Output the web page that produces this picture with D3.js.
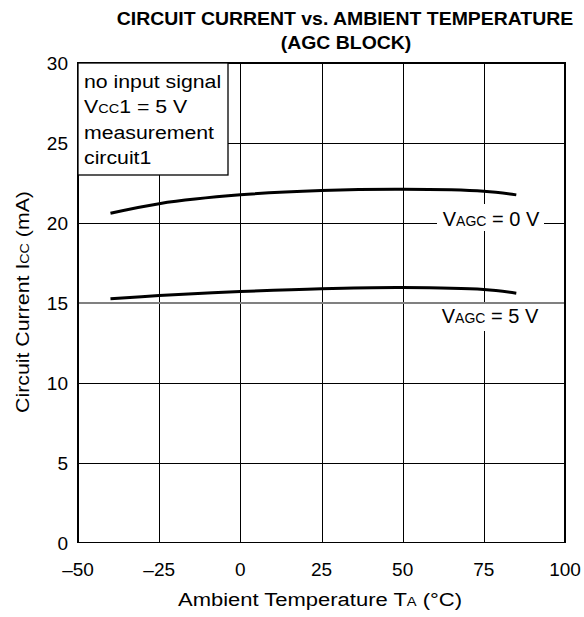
<!DOCTYPE html>
<html><head><meta charset="utf-8">
<script src="https://cdn.jsdelivr.net/npm/d3@7"></script>
<style>body{margin:0;background:#fff}svg{display:block;font-family:"Liberation Sans",Arial,sans-serif}</style>
</head><body>
<script>
const temps = [-40, -25, 0, 25, 50, 75, 85];
const icc0V = [20.6, 21.2, 21.75, 22.02, 22.1, 21.98, 21.75];
const icc5V = [15.25, 15.45, 15.7, 15.88, 15.95, 15.83, 15.6];
const xTicks = [-50, -25, 0, 25, 50, 75, 100];
const yTicks = [0, 5, 10, 15, 20, 25, 30];
const boxLines = [["no input signal"], ["V", "CC", "1 = 5 V"], ["measurement"], ["circuit1"]];

const W = 584, H = 617;
const svg = d3.select("body").append("svg").attr("width", W).attr("height", H);
const x = d3.scaleLinear().domain([-50, 100]).range([78, 565]);
const y = d3.scaleLinear().domain([0, 30]).range([542.5, 63]);

// helper: stretched text
function stext(px, py, sx, size, anchor, parts, opts = {}) {
  const t = svg.append("text")
    .attr("transform", `translate(${px},${py}) scale(${sx},1)`)
    .attr("text-anchor", anchor).attr("font-size", size).attr("fill", "#000");
  if (opts.bold) t.attr("font-weight", "bold");
  parts.forEach(p => {
    const ts = t.append("tspan").text(p[0]);
    if (p[1]) ts.attr("font-size", p[1]);
  });
  return t;
}

// title
stext(345, 25, 1.08, 18, "middle", [["CIRCUIT CURRENT vs. AMBIENT TEMPERATURE"]], {bold: true});
stext(346, 49, 1.08, 18, "middle", [["(AGC BLOCK)"]], {bold: true});

// grid
const g = svg.append("g").attr("shape-rendering", "crispEdges");
g.selectAll(".vx").data(xTicks.slice(1, -1)).join("line")
  .attr("x1", d => Math.round(x(d)) + 0.5).attr("x2", d => Math.round(x(d)) + 0.5)
  .attr("y1", y(30)).attr("y2", y(0)).attr("stroke", "#000").attr("stroke-width", 1);
g.selectAll(".hy").data(yTicks.slice(1, -1)).join("line")
  .attr("y1", d => d === 15 ? Math.round(y(d)) : Math.round(y(d)) + 0.5)
  .attr("y2", d => d === 15 ? Math.round(y(d)) : Math.round(y(d)) + 0.5)
  .attr("x1", x(-50)).attr("x2", x(100))
  .attr("stroke", d => d === 15 ? "#808080" : "#000")
  .attr("stroke-width", d => d === 15 ? 2 : 1);
g.append("rect").attr("x", x(-50)).attr("y", y(30)).attr("width", x(100) - x(-50))
  .attr("height", y(0) - y(30)).attr("fill", "none").attr("stroke", "#000").attr("stroke-width", 1.6);

// tick labels (positions from scales)
xTicks.forEach(d => stext(x(d), 576, 1.0, 19, "middle", [[d < 0 ? "\u2013" + Math.abs(d) : String(d)]]));
yTicks.forEach(d => stext(x(-50) - 10, y(d) + 7, 1.0, 19, "end", [[String(d)]]));

// axis titles
svg.append("text").attr("x", 320).attr("y", 606).attr("text-anchor", "middle").attr("font-size", 18)
  .attr("textLength", 284).attr("lengthAdjust", "spacingAndGlyphs")
  .call(t => { t.append("tspan").text("Ambient Temperature  T"); t.append("tspan").attr("font-size", 12).text("A"); t.append("tspan").text(" (\u00B0C)"); });
svg.append("text").attr("transform", "translate(29,302) rotate(-90)").attr("text-anchor", "middle").attr("font-size", 18)
  .attr("textLength", 222).attr("lengthAdjust", "spacingAndGlyphs")
  .call(t => { t.append("tspan").text("Circuit Current  I"); t.append("tspan").attr("font-size", 12).text("CC"); t.append("tspan").text(" (mA)"); });

// curves
const line = d3.line().x((d, i) => x(temps[i])).y(d => y(d)).curve(d3.curveCatmullRom.alpha(0.5));
[icc0V, icc5V].forEach(s => {
  svg.append("path").attr("d", line(s)).attr("fill", "none").attr("stroke", "#000").attr("stroke-width", 3);
});

// curve labels with white backgrounds
function label(cx, top, bottom, base, sub, val) {
  svg.append("rect").attr("x", 437).attr("y", top).attr("width", 107).attr("height", bottom - top).attr("fill", "#fff");
  stext(cx, base, 1.0, 20, "middle", [["V"], [sub, 14], [" = " + val]]);
}
label(491, 204, 231, 226, "AGC", "0 V");
label(490, 304, 331, 323, "AGC", "5 V");

// condition box
svg.append("rect").attr("x", x(-50)).attr("y", y(30)).attr("width", 150).attr("height", 112)
  .attr("fill", "#fff").attr("stroke", "#000").attr("stroke-width", 1.3);
boxLines.forEach((l, i) => {
  const parts = l.length > 1 ? [[l[0]], [l[1], 13], [l[2]]] : [[l[0]]];
  stext(84, 88 + i * 25.4, 1.12, 19, "start", parts);
});
</script>
</body></html>
